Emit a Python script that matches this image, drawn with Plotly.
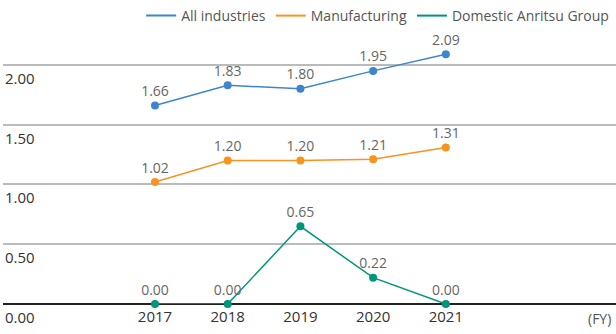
import plotly.graph_objects as go

years = [2017, 2018, 2019, 2020, 2021]
all_industries = [1.66, 1.83, 1.80, 1.95, 2.09]
manufacturing = [1.02, 1.20, 1.20, 1.21, 1.31]
anritsu = [0.00, 0.00, 0.65, 0.22, 0.00]
series_names = ["All industries", "Manufacturing", "Domestic Anritsu Group"]
colors = ["#3d85cf", "#f7931e", "#00967a"]
y_ticks = [0.0, 0.5, 1.0, 1.5, 2.0]
y_tick_labels = ["0.00", "0.50", "1.00", "1.50", "2.00"]

FONT = "Open Sans"
fig = go.Figure()
for name, vals, col in zip(series_names, [all_industries, manufacturing, anritsu], colors):
    fig.add_trace(go.Scatter(
        x=years, y=vals, mode="lines+markers+text",
        line=dict(color=col, width=1.5),
        marker=dict(color=col, size=8),
        text=[f"{v:.2f}" for v in vals], textposition="top center",
        textfont=dict(family=FONT, size=14, color="#666666"),
        showlegend=False, cliponaxis=False,
    ))
    fig.add_trace(go.Scatter(
        x=[None], y=[None], mode="lines", name=name,
        line=dict(color=col, width=2), showlegend=True,
    ))

fig.update_layout(
    width=616, height=334,
    margin=dict(l=3, r=0, t=41, b=30),
    paper_bgcolor="white", plot_bgcolor="white",
    font=dict(family=FONT, size=14, color="#333333"),
    legend=dict(orientation="h", x=0.997, xanchor="right", y=1.0, yanchor="top",
                yref="container", font=dict(size=14, color="#555555"),
                itemwidth=30, traceorder="normal"),
    xaxis=dict(range=[2014.91, 2023.34], tickvals=years, ticktext=[str(y) for y in years],
               showgrid=False, zeroline=False, showline=False, ticks="",
               tickfont=dict(size=15, color="#333333"), ticklabelstandoff=2),
    yaxis=dict(range=[0, 2.2], tickvals=y_ticks, showticklabels=False,
               showgrid=True, gridcolor="#bbbbbb", gridwidth=1.5,
               zeroline=True, zerolinecolor="#222222", zerolinewidth=1.5,
               showline=False),
)
for v, lab in zip(y_ticks, y_tick_labels):
    fig.add_annotation(text=lab, xref="paper", yref="y", x=0, y=v, xanchor="left",
                       yanchor="top", yshift=-1, xshift=0, showarrow=False,
                       font=dict(family=FONT, size=15, color="#333333"))
fig.add_annotation(text="(FY)", xref="paper", yref="y", x=0.995, y=0, xanchor="right",
                   yanchor="top", yshift=-3, showarrow=False,
                   font=dict(family=FONT, size=14, color="#555555"))
fig.write_html("out.html")
